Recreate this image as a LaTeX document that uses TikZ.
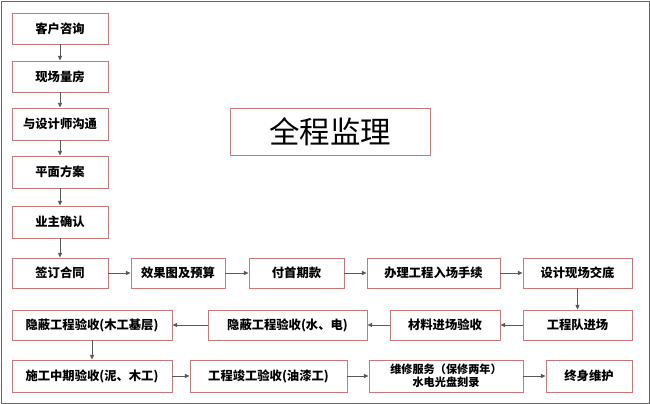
\documentclass[tikz,border=0pt]{standalone}
\usepackage{fontspec}
\setmainfont{Noto Sans CJK SC}
\usetikzlibrary{arrows.meta,shadows}
\definecolor{bord}{RGB}{200,120,120}
\begin{document}
\begin{tikzpicture}[x=0.03cm,y=-0.03cm,
  bx/.style={draw=bord,line width=0.8pt,fill=white,drop shadow={shadow xshift=1pt,shadow yshift=-1pt,fill=black!25,opacity=1},font=\fontsize{10.5}{12}\selectfont\bfseries,inner sep=0pt},
  ar/.style={draw=black!65,line width=0.6pt,-{Triangle[length=4pt,width=3.5pt]}}]
\draw[black!60,line width=0.6pt] (1,1) rectangle (649,403);
\useasboundingbox (0,0) rectangle (650,404);
\newcommand\bxat[6]{\node[bx,minimum width={(#4-#2)*0.03cm},minimum height={(#5-#3)*0.03cm},align=center] (#1) at ({(#2+#4)/2},{(#3+#5)/2}) {#6};}
\bxat{a}{12}{13}{108}{44}{客户咨询}
\bxat{b}{12}{61}{108}{92}{现场量房}
\bxat{c}{12}{108}{108}{140}{与设计师沟通}
\bxat{d}{12}{156}{108}{188}{平面方案}
\bxat{e}{12}{206}{108}{238}{业主确认}
\bxat{f}{12}{258}{108}{288}{签订合同}
\bxat{g}{131}{258}{225}{288}{效果图及预算}
\bxat{h}{249}{258}{344}{288}{付首期款}
\bxat{i}{367}{258}{500}{288}{办理工程入场手续}
\bxat{j}{523}{258}{632}{288}{设计现场交底}
\bxat{k}{523}{310}{632}{340}{工程队进场}
\bxat{l}{390}{310}{500}{340}{材料进场验收}
\bxat{m}{208}{310}{367}{340}{隐蔽工程验收(水、电)}
\bxat{n}{12}{310}{172}{340}{隐蔽工程验收(木工基层)}
\bxat{o}{12}{360}{172}{392}{施工中期验收(泥、木工)}
\bxat{p}{190}{360}{347}{392}{工程竣工验收(油漆工)}
\bxat{q}{369}{360}{523}{392}{\fontsize{9.5}{10.5}\selectfont 维修服务（保修两年）\\[-1pt]\fontsize{9.5}{10.5}\selectfont 水电光盘刻录}
\bxat{r}{546}{360}{632}{392}{终身维护}
\node[bx,minimum width={200*0.03cm},minimum height={47*0.03cm},font=\fontsize{26}{30}\selectfont] (z) at (330,131.5) {全程监理};
\draw[ar] (a) -- (b);
\draw[ar] (b) -- (c);
\draw[ar] (c) -- (d);
\draw[ar] (d) -- (e);
\draw[ar] (e) -- (f);
\draw[ar] (f) -- (g);
\draw[ar] (g) -- (h);
\draw[ar] (h) -- (i);
\draw[ar] (i) -- (j);
\draw[ar] (j) -- (k);
\draw[ar] (k) -- (l);
\draw[ar] (l) -- (m);
\draw[ar] (m) -- (n);
\draw[ar] (n.south -| 92,0) -- (o.north -| 92,0);
\draw[ar] (o) -- (p);
\draw[ar] (p) -- (q);
\draw[ar] (q) -- (r);
\end{tikzpicture}
\end{document}
